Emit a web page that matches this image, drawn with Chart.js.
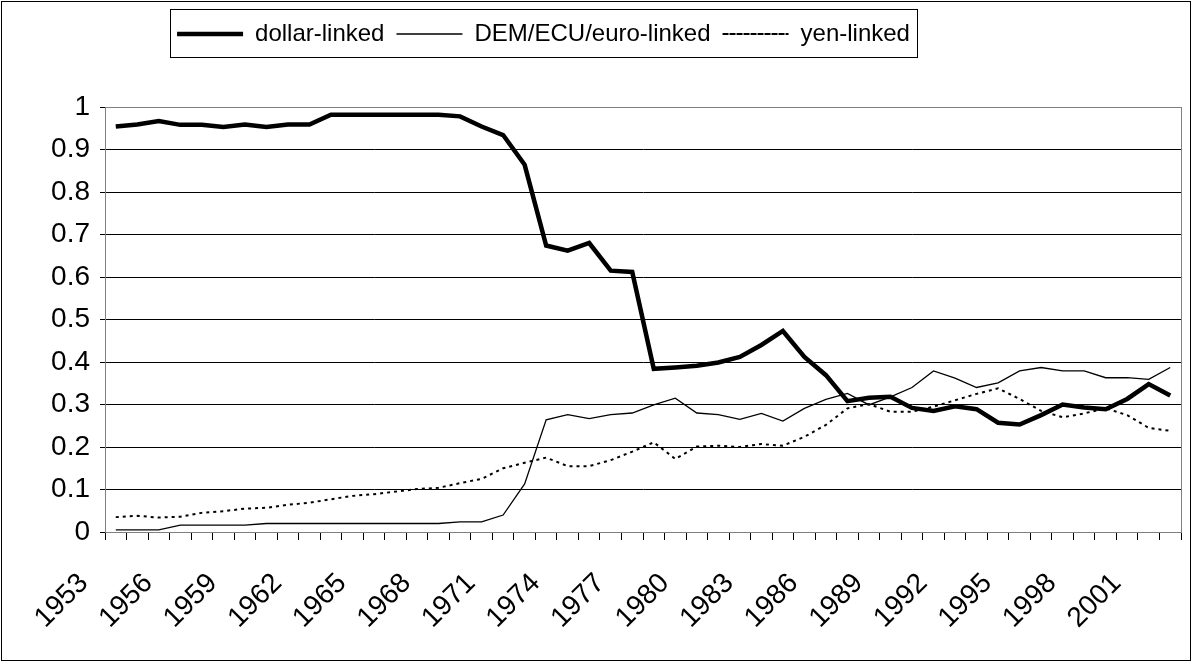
<!DOCTYPE html>
<html>
<head>
<meta charset="utf-8">
<script src="https://cdn.jsdelivr.net/npm/chart.js@4"></script>
<style>
  html, body { margin: 0; padding: 0; background: #fff; }
</style>
</head>
<body>
<canvas id="pegChart" width="1193" height="663"></canvas>
<script>
const years = [
  1953, 1954, 1955, 1956, 1957, 1958, 1959, 1960, 1961, 1962,
  1963, 1964, 1965, 1966, 1967, 1968, 1969, 1970, 1971, 1972,
  1973, 1974, 1975, 1976, 1977, 1978, 1979, 1980, 1981, 1982,
  1983, 1984, 1985, 1986, 1987, 1988, 1989, 1990, 1991, 1992,
  1993, 1994, 1995, 1996, 1997, 1998, 1999, 2000, 2001, 2002
];

const dollarLinked = [
  0.954, 0.959, 0.967, 0.958, 0.958, 0.953, 0.959, 0.953, 0.959, 0.959,
  0.982, 0.982, 0.982, 0.982, 0.982, 0.982, 0.978, 0.954, 0.934, 0.864,
  0.674, 0.662, 0.680, 0.615, 0.612, 0.384, 0.387, 0.391, 0.399, 0.412,
  0.440, 0.473, 0.412, 0.369, 0.308, 0.316, 0.318, 0.292, 0.285, 0.296,
  0.289, 0.257, 0.253, 0.275, 0.300, 0.293, 0.289, 0.313, 0.348, 0.321
];

const demLinked = [
  0.005, 0.005, 0.005, 0.016, 0.016, 0.016, 0.016, 0.020, 0.020, 0.020,
  0.020, 0.020, 0.020, 0.020, 0.020, 0.020, 0.024, 0.024, 0.040, 0.113,
  0.264, 0.276, 0.267, 0.276, 0.280, 0.299, 0.315, 0.280, 0.276, 0.265,
  0.279, 0.261, 0.291, 0.312, 0.326, 0.299, 0.318, 0.340, 0.379, 0.362,
  0.340, 0.351, 0.379, 0.387, 0.379, 0.379, 0.363, 0.363, 0.359, 0.387
];

const yenLinked = [
  0.035, 0.038, 0.034, 0.036, 0.045, 0.049, 0.055, 0.057, 0.064, 0.069,
  0.077, 0.085, 0.089, 0.095, 0.101, 0.104, 0.115, 0.125, 0.150, 0.163,
  0.175, 0.155, 0.155, 0.169, 0.189, 0.211, 0.172, 0.201, 0.203, 0.200,
  0.207, 0.203, 0.224, 0.252, 0.291, 0.301, 0.283, 0.283, 0.295, 0.310,
  0.325, 0.338, 0.313, 0.285, 0.270, 0.279, 0.291, 0.275, 0.245, 0.238
];

// only every third year gets a label on the x axis
const shownYears = [1953, 1956, 1959, 1962, 1965, 1968, 1971, 1974, 1977, 1980, 1983, 1986, 1989, 1992, 1995, 1998, 2001];

Chart.defaults.font.family = '"Liberation Sans", Arial, sans-serif';
Chart.defaults.font.size = 28;
Chart.defaults.color = '#000';

const LEGEND_FONT = 24;
const LEGEND_PAD = 12;

const framePlugin = {
  id: 'frame',
  afterLayout(chart) {
    // the legend sits left of centre, near the top, in the original
    const lg = chart.legend;
    const dx = 543.5 - (lg.left + lg.right) / 2;
    lg.left += dx;
    lg.right += dx;
    const h = lg.bottom - lg.top;
    lg.top = 34 - LEGEND_FONT / 2 - LEGEND_PAD;
    lg.bottom = lg.top + h;
  },
  beforeDraw(chart) {
    const ctx = chart.ctx;
    ctx.save();
    ctx.fillStyle = '#fff';
    ctx.fillRect(0, 0, chart.width, chart.height);
    ctx.restore();
  },
  beforeDatasetsDraw(chart) {
    const a = chart.chartArea;
    const ctx = chart.ctx;
    ctx.save();
    ctx.strokeStyle = '#808080';
    ctx.lineWidth = 1;
    ctx.strokeRect(Math.round(a.left) + 0.5, Math.round(a.top) + 0.5, Math.round(a.right - a.left), Math.round(a.bottom - a.top));
    ctx.restore();
  },
  afterDraw(chart) {
    const ctx = chart.ctx;
    const boxes = chart.legend.legendHitBoxes;
    let l = Infinity, r = -Infinity;
    boxes.forEach(h => {
      l = Math.min(l, h.left);
      r = Math.max(r, h.left + h.width);
    });
    ctx.save();
    ctx.strokeStyle = '#000';
    ctx.lineWidth = 1;
    ctx.strokeRect(Math.round(l - 7) + 0.5, 9.5, Math.round(r - l + 14), 48);
    ctx.strokeRect(1.5, 1.5, chart.width - 4, chart.height - 4);
    ctx.restore();
  }
};

const ctx = document.getElementById('pegChart').getContext('2d');
new Chart(ctx, {
  type: 'line',
  data: {
    labels: years,
    datasets: [
      {
        label: 'dollar-linked',
        data: dollarLinked,
        borderColor: '#000',
        backgroundColor: '#000',
        borderWidth: 4.5,
        pointRadius: 0,
        tension: 0
      },
      {
        label: 'DEM/ECU/euro-linked',
        data: demLinked,
        borderColor: '#000',
        backgroundColor: '#000',
        borderWidth: 1.3,
        pointRadius: 0,
        tension: 0
      },
      {
        label: 'yen-linked',
        data: yenLinked,
        borderColor: '#000',
        backgroundColor: '#000',
        borderWidth: 2,
        borderDash: [3, 4],
        pointRadius: 0,
        tension: 0
      }
    ]
  },
  options: {
    responsive: false,
    animation: false,
    layout: {
      padding: { left: 10, right: 12, top: 20, bottom: 0 }
    },
    plugins: {
      legend: {
        position: 'top',
        labels: {
          boxWidth: 66,
          boxHeight: 0,
          padding: LEGEND_PAD,
          color: '#000',
          font: { size: LEGEND_FONT }
        }
      },
      tooltip: { enabled: false }
    },
    scales: {
      x: {
        offset: true,
        grid: {
          offset: true,
          drawOnChartArea: false,
          drawTicks: true,
          tickLength: 8,
          color: '#000'
        },
        border: { color: '#000', width: 1 },
        ticks: {
          autoSkip: false,
          maxRotation: 45,
          minRotation: 45,
          padding: 27,
          labelOffset: -32,
          color: '#000',
          font: { size: 28 },
          callback: function (value, index) {
            const y = years[index];
            return shownYears.includes(y) ? String(y) : '';
          }
        },
        afterFit(scale) {
          scale.height = 131;
          scale.paddingLeft = 0;
          scale.paddingRight = 0;
        }
      },
      y: {
        min: 0,
        max: 1,
        grid: {
          color: '#000',
          lineWidth: 1,
          drawTicks: true,
          tickLength: 5
        },
        border: { color: '#000', width: 1 },
        ticks: {
          stepSize: 0.1,
          padding: 10,
          color: '#000',
          font: { size: 28 },
          callback: v => String(Number(v.toFixed(1)))
        },
        afterFit(scale) {
          scale.width = 95;
          scale.paddingTop = 107;
        }
      }
    }
  },
  plugins: [framePlugin]
});
</script>
</body>
</html>
